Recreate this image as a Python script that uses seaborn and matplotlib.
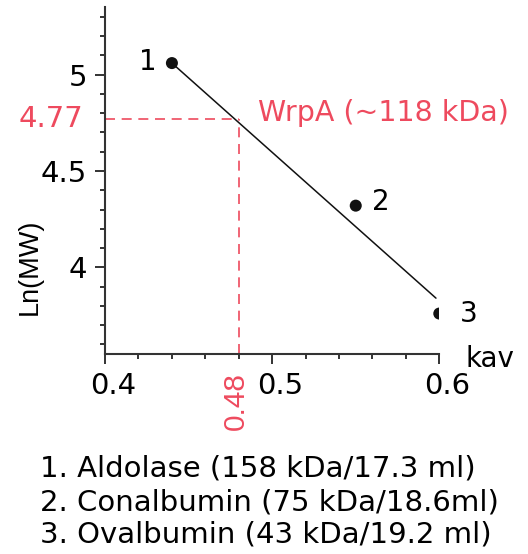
import matplotlib
matplotlib.use("Agg")
import matplotlib.pyplot as plt
import matplotlib.transforms as mtransforms
import seaborn as sns
import pandas as pd
from matplotlib.ticker import MultipleLocator

# standards (kav vs ln MW)
kav = [0.44, 0.55, 0.60]
ln_mw = [5.06, 4.32, 3.76]
point_labels = ["1", "2", "3"]
# fitted line end points
fit_kav = [0.44, 0.598]
fit_ln = [5.06, 3.84]
# unknown protein
wrpa_kav = 0.48
wrpa_ln = 4.77
standards = [
    "1. Aldolase (158 kDa/17.3 ml)",
    "2. Conalbumin (75 kDa/18.6ml)",
    "3. Ovalbumin (43 kDa/19.2 ml)",
]

red = "#ee4a5e"
dark = "#333333"

sns.set_style("ticks")
plt.rcParams["font.family"] = ["DejaVu Sans"]
plt.rcParams["text.color"] = "black"

fig = plt.figure(figsize=(5.28, 5.54), dpi=100)
ax = fig.add_axes([0.199, 0.361, 0.633, 0.626])

df = pd.DataFrame({"kav": kav, "ln": ln_mw})
fit = pd.DataFrame({"kav": fit_kav, "ln": fit_ln})

sns.lineplot(data=fit, x="kav", y="ln", color="#111111", lw=1.1, ax=ax)
sns.scatterplot(data=df, x="kav", y="ln", color="#111111", s=75,
                edgecolor="none", ax=ax, zorder=5)

# dashed guide lines for the unknown
ax.plot([0.4, wrpa_kav], [wrpa_ln, wrpa_ln], color=red, lw=1.2,
        ls=(0, (6, 4)))
ax.plot([wrpa_kav, wrpa_kav], [3.55, wrpa_ln], color=red, lw=1.2,
        ls=(0, (6, 4)))

offsets = [(-11, -5, "right"), (12, -3, "left"), (15, -6, "left")]
for x, y, lab, (dx, dy, ha) in zip(kav, ln_mw, point_labels, offsets):
    ax.annotate(lab, xy=(x, y), xytext=(dx, dy), textcoords="offset points",
                ha=ha, va="baseline", fontsize=20, color="black")

ax.text(0.4916, 4.76, "WrpA (~118 kDa)", color=red, fontsize=20.5,
        ha="left", va="baseline")
ax.annotate("4.77", xy=(0.4, wrpa_ln), xytext=(-16, 0),
            textcoords="offset points", ha="right", va="center",
            fontsize=21, color=red)
ax.annotate("0.48", xy=(wrpa_kav, 3.55), xytext=(-2, -13),
            textcoords="offset points", ha="center", va="top",
            rotation=90, fontsize=21.5, color=red,
            family=["Liberation Sans", "DejaVu Sans"])
ax.annotate("kav", xy=(1, 0), xycoords="axes fraction", xytext=(19, -9),
            textcoords="offset points", ha="left", va="baseline",
            fontsize=20, color="black")

ax.set_xlim(0.4, 0.6)
ax.set_ylim(3.55, 5.35)
ax.xaxis.set_major_locator(MultipleLocator(0.1))
ax.xaxis.set_minor_locator(MultipleLocator(0.02))
ax.yaxis.set_major_locator(MultipleLocator(0.5))
ax.yaxis.set_minor_locator(MultipleLocator(0.1))
ax.set_xticks([0.4, 0.5, 0.6])
ax.set_xticklabels(["0.4", "0.5", "0.6"])
ax.set_yticks([4, 4.5, 5])
ax.set_yticklabels(["4", "4.5", "5"])
ax.tick_params(which="major", length=7, width=1.4, color=dark,
               labelsize=21, pad=6, labelcolor="black")
ax.tick_params(which="minor", length=3.6, width=1.4, color=dark)

# x tick labels sit a little right of their ticks in the reference
shift = mtransforms.ScaledTranslation(8 / 100, 0, fig.dpi_scale_trans)
for lbl in ax.get_xticklabels():
    lbl.set_transform(lbl.get_transform() + shift)

ax.set_xlabel("")
ax.set_ylabel("Ln(MW)", fontsize=19.5, color="black",
              family=["Liberation Sans", "DejaVu Sans"])
ax.yaxis.set_label_coords(-0.186, 0.251)

sns.despine(ax=ax)
for s in ["left", "bottom"]:
    ax.spines[s].set_color(dark)
    ax.spines[s].set_linewidth(1.5)

for i, line in enumerate(standards):
    fig.text(40 / 528, 1 - (477 + 33 * i) / 554, line, fontsize=21,
             ha="left", va="baseline", color="black")

fig.savefig("out.png", dpi=100)
